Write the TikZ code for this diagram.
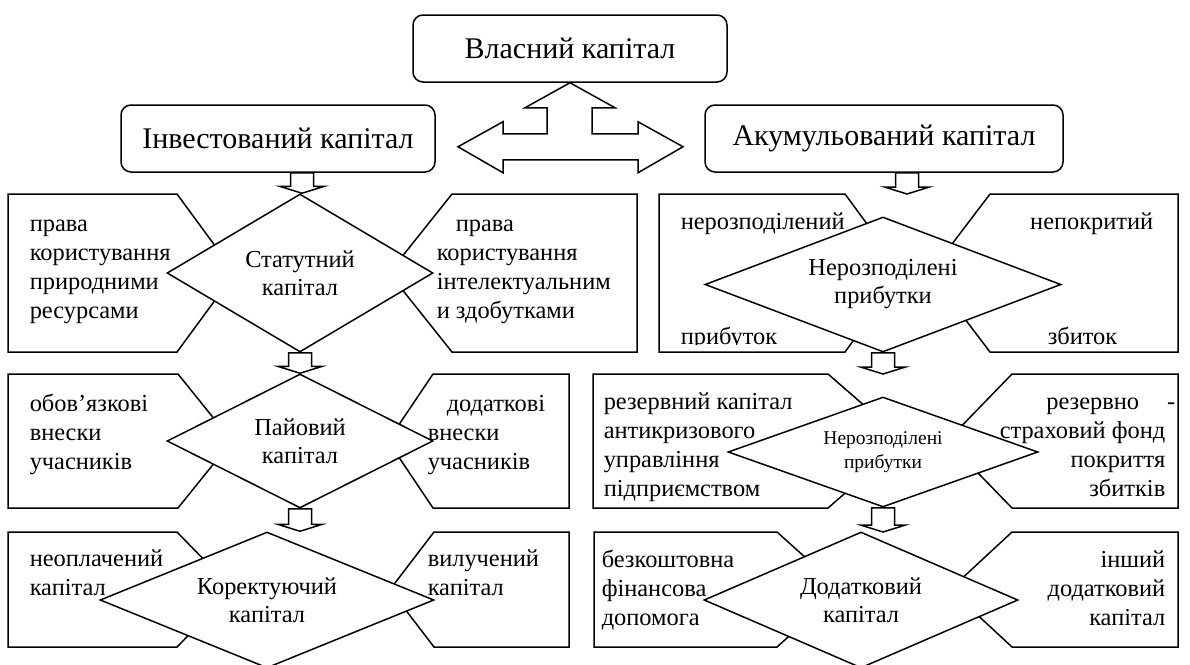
\documentclass[tikz,border=0pt]{standalone}
\usepackage{fontspec}
\setmainfont{Liberation Serif}
\usetikzlibrary{shapes.geometric,calc}
\begin{document}
\begin{tikzpicture}
		[x=1pt,y=-1pt,line width=1.5pt,
		big/.style={draw,rounded corners=10pt,minimum height=67pt,font=\fontsize{30}{34}\selectfont},
		romb/.style={draw,fill=white,diamond,inner sep=0pt,align=center,font=\fontsize{24.4}{28}\selectfont},
		txt/.style={inner sep=0pt,anchor=north west,align=left,font=\fontsize{24.4}{29}\selectfont},
		txtr/.style={txt,anchor=north east,align=right},
		blockarrow/.style={to path={let \p1=(\tikztostart), \p2=(\tikztotarget) in
			(\x1-11.5pt,\y1) -- (\x1-11.5pt,\y2+7pt) -- (\x1-22.5pt,\y2+7pt) -- (\x1,\y2)
			-- (\x1+22.5pt,\y2+7pt) -- (\x1+11.5pt,\y2+7pt) -- (\x1+11.5pt,\y1) -- cycle}},
		]
		\useasboundingbox (0,0) rectangle (1190,664);

		\node[big,minimum width=314pt] (vlas) at (570,48.5) {Власний капітал};
		\node[big,minimum width=314pt] (inv) at (278,138.5) {Інвестований капітал};
		\node[big,minimum width=358pt] (akum) at (884,138.5) {Акумульований капітал};

		% бічні блоки
		\draw (8,194) -- (177,194) -- (235,273) -- (177,352) -- (8,352) -- cycle;
		\draw (637,194) -- (452,194) -- (389,273) -- (452,352) -- (637,352) -- cycle;
		\draw (659,194) coordinate (l4) -- (845,194) -- (903,273) -- (845,352) -- (659,352) -- cycle;
		\draw (1178,194) -- (990,194) -- (930,273) -- (990,352) -- (1178,352) -- cycle;
		\draw (8,374) -- (178,374) -- (232,441) -- (178,508) -- (8,508) -- cycle;
		\draw (569,374) -- (433,374) -- (388,441) -- (433,508) -- (569,508) -- cycle;
		\draw (593,374) coordinate (l5) -- (828,374) -- (905,441) -- (828,508) -- (593,508) -- cycle;
		\draw (1178,374) -- (1012,374) -- (947,441) -- (1012,508) -- (1178,508) -- cycle;
		\draw (8,532) -- (177,532) -- (233,589.5) -- (177,647) -- (8,647) -- cycle;
		\draw (569,532) -- (434,532) -- (390,589.5) -- (434,647) -- (569,647) -- cycle;
		\draw (594,532) coordinate (l6) -- (777,532) -- (841,589.5) -- (777,647) -- (594,647) -- cycle;
		\draw (1178,532) -- (1012,532) -- (950,589.5) -- (1012,647) -- (1178,647) -- cycle;

		\node[romb,minimum width=266pt,minimum height=158pt,shape aspect=1.68] (statut) at (300,273) {Статутний\\капітал};
		\node[romb,minimum width=266pt,minimum height=134pt,shape aspect=2] (paiov) at (300,441) {Пайовий\\капітал};
		\node[romb,minimum width=334pt,minimum height=136pt,shape aspect=2.46] (korekt) at (267,600) {Коректуючий\\капітал};
		\node[romb,minimum width=356pt,minimum height=135pt,shape aspect=2.64] (neroz) at (883,284.5) {Нерозподілені\\прибутки};
		\node[romb,minimum width=310pt,minimum height=110pt,shape aspect=2.82,font=\fontsize{19.5}{24}\selectfont] (neroz2) at (883,452) {Нерозподілені\\прибутки};
		\node[romb,minimum width=314pt,minimum height=136pt,shape aspect=2.3] (dodat) at (861,600) {Додатковий\\капітал};

		\node[txt] (pryrod) at (29,210.5) {\strut права\\користування\\природними\\ресурсами};
		\node[txt] (intel) at (436,210.5) {\strut\hspace*{19pt}права\\користування\\інтелектуальним\\и здобутками};
		\node[txt] (obov) at (29,390) {\strut обов’язкові\\внески\\учасників};
		\node[txt] (dodvn) at (427,390) {\strut\hspace*{19pt}додаткові\\внески\\учасників};
		\node[txt] (neopl) at (29,545) {\strut неоплачений\\капітал};
		\node[txt] (vyluch) at (427,545) {\strut вилучений\\капітал};
		\node[txt] (nerozp) at (680,208.5) {\strut нерозподілений};
		\node[txtr] (nepokr) at (1154,208.5) {\strut непокритий};
		\begin{scope}
			\clip (659,194) rectangle (845,344);
			\node[txt] (prybut) at (680,323) {\strut прибуток};
		\end{scope}
		\node[txt] (zbyt) at (1047,323) {\strut збиток};
		\node[txt] (rezkap) at (603,388) {\strut резервний капітал\\антикризового\\управління\\підприємством};
		\node[txtr] (strakh) at (1166,388) {\strut резервно\hspace{1.15em}-\hspace*{-10pt}\\страховий фонд\\покриття\\збитків};
		\node[txt] (bezk) at (601,546) {\strut безкоштовна\\фінансова\\допомога};
		\node[txtr] (inshyi) at (1166,546) {\strut інший\\додатковий\\капітал};

		% стрілки
		\draw (vlas.south) -- ++(45,25) -- ++(-23,0) -- ++(0,26) -- ++(46,0) -- ++(0,-12) -- ++(45,25)
			-- ++(-45,26) -- ++(0,-13) -- ++(-135,0) -- ++(0,13) -- ++(-45,-26) -- ++(45,-25)
			-- ++(0,12) -- ++(44,0) -- ++(0,-26) -- ++(-22,0) -- cycle;
		\coordinate (a1) at ([xshift=24pt]inv.south);
		\coordinate (a4) at ([xshift=23pt]akum.south);
		\draw[blockarrow] (a1) to (statut.north);
		\draw[blockarrow] (statut.south) to (paiov.north);
		\draw[blockarrow] (paiov.south) to (korekt.north);
		\draw[blockarrow] (a4) to (l4);
		\draw[blockarrow] (neroz.south) to (l5);
		\draw[blockarrow] (neroz2.south) to (l6);
	\end{tikzpicture}
\end{document}
